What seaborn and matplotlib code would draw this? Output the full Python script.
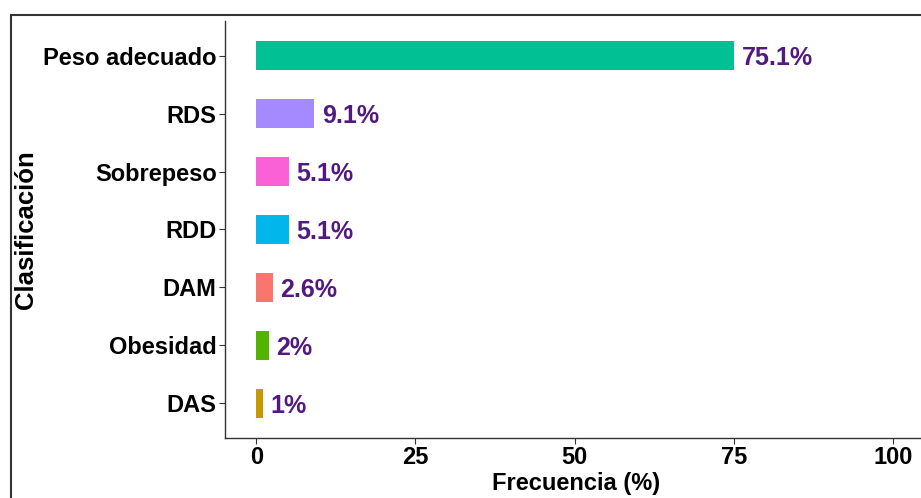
import matplotlib
matplotlib.use("Agg")
import matplotlib.pyplot as plt
import seaborn as sns
import pandas as pd
from matplotlib.patches import Rectangle

categories = ["Peso adecuado", "RDS", "Sobrepeso", "RDD", "DAM", "Obesidad", "DAS"]
values = [75.1, 9.1, 5.1, 5.1, 2.6, 2.0, 1.0]
labels = ["75.1%", "9.1%", "5.1%", "5.1%", "2.6%", "2%", "1%"]
colors = ["#00C094", "#A58AFF", "#FB61D7", "#00B6EB", "#F8766D", "#53B400", "#C49A00"]
xticks = [0, 25, 50, 75, 100]

sns.set_theme(style="white")
plt.rcParams['font.family'] = ['Liberation Sans', 'DejaVu Sans']

df = pd.DataFrame({"cat": categories, "val": values})

fig = plt.figure(figsize=(9.21, 4.98), dpi=100)
ax = fig.add_axes([225/921, 1 - 438/498, (928 - 225)/921, (438 - 21)/498])

sns.barplot(data=df, x="val", y="cat", hue="cat", order=categories,
            palette=dict(zip(categories, colors)), orient="h", width=0.5,
            legend=False, ax=ax, saturation=1, linewidth=0)

for i, (v, lab) in enumerate(zip(values, labels)):
    ax.text(v + 1.2, i, lab, color="#521A80", fontsize=18, fontweight="bold",
            va="center_baseline", ha="left")

ax.set_xlim(-4.9, 105.5)
ax.set_ylim(6.6, -0.6)
ax.set_xticks(xticks)
ax.set_xticklabels([str(t) for t in xticks])
ax.set_xlabel("Frecuencia (%)", fontsize=17, fontweight="bold", color="black", labelpad=2)
ax.set_ylabel("Clasificación", fontsize=18.5, fontweight="bold", color="black")
ax.yaxis.set_label_coords((38 - 225) / (928 - 225), 0.5)
ax.tick_params(axis="both", which="both", length=4, width=0.8, color="#333333",
               labelsize=17, labelcolor="black", pad=2, direction="out",
               bottom=True, left=True)
for lab in ax.get_xticklabels() + ax.get_yticklabels():
    lab.set_fontweight("bold")
for s in ["top", "right"]:
    ax.spines[s].set_visible(False)
for s in ["left", "bottom"]:
    ax.spines[s].set_color("#333333")
    ax.spines[s].set_linewidth(1.0)

fig.patches.append(Rectangle((11/921, -0.1), 1.2, 1 - 15/498 + 0.1,
                             transform=fig.transFigure, fill=False,
                             edgecolor="#333333", linewidth=1.5))

fig.savefig("out.png", dpi=100)
